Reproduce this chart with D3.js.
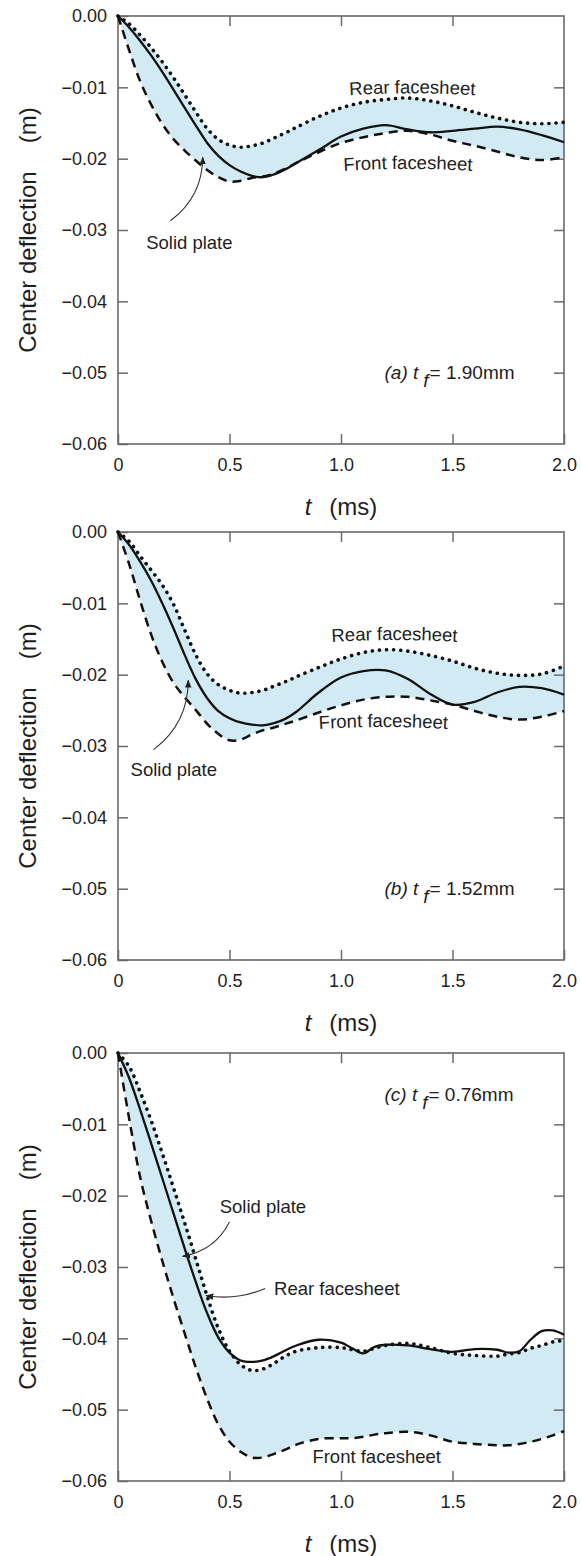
<!DOCTYPE html>
<html>
<head>
<meta charset="utf-8">
<script src="https://cdn.jsdelivr.net/npm/d3@7"></script>
<style>
  html, body { margin: 0; padding: 0; background: #fff; }
  svg { display: block; font-family: "Liberation Sans", Arial, Helvetica, sans-serif; }
</style>
</head>
<body>
<svg id="chart" width="581" height="1556"></svg>
<script>
// ---------- DATA ----------
const tAB = [0,0.05,0.1,0.15,0.2,0.25,0.3,0.35,0.4,0.45,0.5,0.55,0.6,0.65,0.7,0.75,0.8,0.9,1.0,1.1,1.2,1.3,1.4,1.5,1.6,1.7,1.8,1.9,2.0];

const rearA  = [0,-0.0011,-0.0027,-0.0045,-0.0065,-0.0087,-0.0111,-0.0135,-0.0158,-0.0173,-0.0181,-0.0184,-0.0182,-0.0178,-0.0171,-0.0164,-0.0156,-0.0141,-0.0129,-0.0121,-0.0117,-0.0115,-0.0119,-0.0126,-0.0135,-0.0143,-0.0149,-0.0151,-0.0149];
const solidA = [0,-0.0016,-0.0035,-0.0056,-0.0079,-0.0104,-0.0129,-0.0154,-0.0178,-0.0196,-0.0209,-0.0218,-0.0224,-0.0226,-0.0222,-0.0215,-0.0206,-0.0188,-0.0169,-0.0158,-0.0153,-0.0159,-0.0163,-0.0161,-0.0158,-0.0155,-0.0159,-0.0167,-0.0177];
const frontA = [0,-0.0048,-0.0092,-0.0125,-0.0152,-0.0173,-0.0189,-0.0203,-0.0216,-0.0226,-0.0232,-0.0231,-0.0227,-0.0225,-0.0221,-0.0214,-0.0206,-0.0191,-0.0178,-0.0170,-0.0164,-0.0161,-0.0166,-0.0175,-0.0182,-0.0190,-0.0198,-0.0202,-0.0198];

const rearB  = [0,-0.0013,-0.0034,-0.0054,-0.0075,-0.0102,-0.0138,-0.0173,-0.0199,-0.0214,-0.0222,-0.0226,-0.0225,-0.0222,-0.0216,-0.0210,-0.0203,-0.0190,-0.0178,-0.0169,-0.0165,-0.0167,-0.0173,-0.0181,-0.0191,-0.0198,-0.0201,-0.0199,-0.0188];
const solidB = [0,-0.0018,-0.0042,-0.0069,-0.0101,-0.0136,-0.0173,-0.0207,-0.0233,-0.0251,-0.0261,-0.0267,-0.0270,-0.0271,-0.0268,-0.0262,-0.0252,-0.0225,-0.0204,-0.0195,-0.0194,-0.0206,-0.0227,-0.0242,-0.0238,-0.0225,-0.0217,-0.0219,-0.0228];
const frontB = [0,-0.0045,-0.0097,-0.0145,-0.0183,-0.0212,-0.0232,-0.0250,-0.0269,-0.0283,-0.0292,-0.0291,-0.0284,-0.0278,-0.0274,-0.0269,-0.0264,-0.0253,-0.0243,-0.0235,-0.0231,-0.0231,-0.0236,-0.0242,-0.0251,-0.0259,-0.0263,-0.0259,-0.0251];

const tC = [0,0.05,0.1,0.15,0.2,0.25,0.3,0.35,0.4,0.45,0.5,0.55,0.6,0.65,0.7,0.75,0.8,0.9,1.0,1.05,1.1,1.15,1.2,1.3,1.4,1.5,1.6,1.7,1.75,1.8,1.85,1.9,1.95,2.0];
const rearC  = [0,-0.0019,-0.0055,-0.0096,-0.0142,-0.0190,-0.0239,-0.0290,-0.0341,-0.0386,-0.0418,-0.0437,-0.0445,-0.0443,-0.0435,-0.0425,-0.0418,-0.0413,-0.0413,-0.0416,-0.0418,-0.0414,-0.0410,-0.0407,-0.0413,-0.0421,-0.0424,-0.0425,-0.0422,-0.0420,-0.0414,-0.0410,-0.0405,-0.0403];
const solidC = [0,-0.0035,-0.0080,-0.0128,-0.0177,-0.0226,-0.0275,-0.0322,-0.0365,-0.0399,-0.0420,-0.0431,-0.0433,-0.0431,-0.0425,-0.0417,-0.0410,-0.0402,-0.0406,-0.0414,-0.0421,-0.0412,-0.0409,-0.0410,-0.0415,-0.0419,-0.0415,-0.0416,-0.0420,-0.0418,-0.0402,-0.0390,-0.0389,-0.0395];
const frontC = [0,-0.0092,-0.0175,-0.0237,-0.0293,-0.0345,-0.0394,-0.0442,-0.0485,-0.0521,-0.0545,-0.0559,-0.0567,-0.0567,-0.0562,-0.0556,-0.0549,-0.0541,-0.0540,-0.0540,-0.0538,-0.0535,-0.0533,-0.0531,-0.0536,-0.0545,-0.0548,-0.0550,-0.0550,-0.0548,-0.0545,-0.0541,-0.0536,-0.0530];

const xTicks = [0, 0.5, 1.0, 1.5, 2.0];
const xTickLabels = ["0", "0.5", "1.0", "1.5", "2.0"];
const yTicks = [0, -0.01, -0.02, -0.03, -0.04, -0.05, -0.06];
const yTickLabels = ["0.00", "\u22120.01", "\u22120.02", "\u22120.03", "\u22120.04", "\u22120.05", "\u22120.06"];

const panelLetters = ["(a)", "(b)", "(c)"];
const panelThickness = ["= 1.90mm", "= 1.52mm", "= 0.76mm"];
const yTitle = "Center deflection";
const yUnit = "(m)";
const xTitle = "t";
const xUnit = "(ms)";
const labelRear = "Rear facesheet";
const labelFront = "Front facesheet";
const labelSolid = "Solid plate";

// ---------- LAYOUT ----------
const svg = d3.select("#chart");
const X0 = 118, X1 = 564, PH = 428;
const tops = [16, 532, 1053];
const FILL = "#d2eaf3";
const FRAME = "#6a6a6a";
const INK = "#1e1e1e";

const defs = svg.append("defs");
defs.append("marker").attr("id", "arr").attr("viewBox", "0 0 10 10")
  .attr("refX", 9).attr("refY", 5).attr("markerWidth", 8).attr("markerHeight", 8)
  .attr("markerUnits", "userSpaceOnUse").attr("orient", "auto")
  .append("path").attr("d", "M0,1 L10,5 L0,9 Z").attr("fill", "#222");

const panels = [
  { t: tAB, rear: rearA, solid: solidA, front: frontA,
    annY: -0.05,
    rearLbl: {t: 1.32, v: -0.0100, arc: 4}, frontLbl: {t: 1.30, v: -0.0206, arc: 4},
    solidLbl: {t: 0.32, v: -0.0318}, solidArrow: {from: [0.235, -0.0287], to: [0.38, -0.0198], bend: 0.25} },
  { t: tAB, rear: rearB, solid: solidB, front: frontB,
    annY: -0.05,
    rearLbl: {t: 1.24, v: -0.0143, arc: 4}, frontLbl: {t: 1.19, v: -0.0265, arc: 4},
    solidLbl: {t: 0.25, v: -0.0333}, solidArrow: {from: [0.16, -0.0305], to: [0.315, -0.0208], bend: 0.25} },
  { t: tC, rear: rearC, solid: solidC, front: frontC,
    annY: -0.0058,
    rearLbl: null, frontLbl: {t: 1.16, v: -0.0566, arc: 0},
    solidLbl: {t: 0.65, v: -0.0215}, solidArrow: {from: [0.50, -0.0237], to: [0.29, -0.0285], bend: -0.25},
    rearArrow: {from: [0.66, -0.0330], to: [0.395, -0.0340], bend: -0.15},
    rearText: {t: 0.70, v: -0.0330} }
];

panels.forEach((p, i) => {
  const top = tops[i];
  const x = d3.scaleLinear().domain([0, 2]).range([X0, X1]);
  const y = d3.scaleLinear().domain([0, -0.06]).range([top, top + PH]);
  const g = svg.append("g");
  const curve = d3.curveCatmullRom.alpha(0.5);

  const pts = p.t.map((t, k) => ({t, rear: p.rear[k], solid: p.solid[k], front: p.front[k]}));

  // fill between front and rear
  g.append("path").datum(pts)
    .attr("d", d3.area().curve(curve).x(d => x(d.t)).y0(d => y(d.front)).y1(d => y(d.rear)))
    .attr("fill", FILL);

  // frame
  g.append("rect").attr("x", X0).attr("y", top).attr("width", X1 - X0).attr("height", PH)
    .attr("fill", "none").attr("stroke", FRAME).attr("stroke-width", 1.6);

  // axes (inward ticks)
  const axStyle = sel => {
    sel.select(".domain").remove();
    sel.selectAll(".tick line").attr("stroke", FRAME).attr("stroke-width", 1.5);
    sel.selectAll(".tick text").attr("fill", INK).style("font-size", "18px")
      .style("font-family", '"Liberation Sans", Arial, sans-serif');
  };
  g.append("g").attr("transform", `translate(0,${top + PH})`)
    .call(d3.axisBottom(x).tickValues(xTicks).tickSizeInner(-10).tickSizeOuter(0).tickPadding(14)
      .tickFormat((d, k) => xTickLabels[k]))
    .call(axStyle);
  g.append("g").attr("transform", `translate(0,${top})`)
    .call(d3.axisTop(x).tickValues(xTicks.slice(1, -1)).tickSizeInner(-10).tickSizeOuter(0).tickFormat(""))
    .call(axStyle);
  g.append("g").attr("transform", `translate(${X0},0)`)
    .call(d3.axisLeft(y).tickValues(yTicks).tickSizeInner(-10).tickSizeOuter(0).tickPadding(11)
      .tickFormat((d, k) => yTickLabels[k]))
    .call(axStyle);
  g.append("g").attr("transform", `translate(${X1},0)`)
    .call(d3.axisRight(y).tickValues(yTicks.slice(1, -1)).tickSizeInner(-10).tickSizeOuter(0).tickFormat(""))
    .call(axStyle);

  // lines
  const line = key => d3.line().curve(curve).x(d => x(d.t)).y(d => y(d[key]));
  g.append("path").datum(pts).attr("d", line("front")).attr("fill", "none")
    .attr("stroke", "#111").attr("stroke-width", 2.5).attr("stroke-dasharray", "9,6");
  g.append("path").datum(pts).attr("d", line("rear")).attr("fill", "none")
    .attr("stroke", "#111").attr("stroke-width", 3.6).attr("stroke-linecap", "round")
    .attr("stroke-dasharray", "0.1,7");
  g.append("path").datum(pts).attr("d", line("solid")).attr("fill", "none")
    .attr("stroke", "#111").attr("stroke-width", 2.3);

  const lblFont = "18.5px";
  const txt = (t, v, s, anchor) => g.append("text")
      .attr("x", x(t)).attr("y", y(v)).attr("text-anchor", anchor || "middle").attr("dy", "0.35em")
      .style("font-size", lblFont).attr("fill", INK).text(s);
  const arcTxt = (lbl, s, id) => {
    if (lbl.arc === 0) { txt(lbl.t, lbl.v, s); return; }
    const cx = x(lbl.t), cy = y(lbl.v) + 6, hw = 90;
    defs.append("path").attr("id", id)
      .attr("d", `M${cx - hw},${cy + lbl.arc} Q${cx},${cy - lbl.arc} ${cx + hw},${cy + lbl.arc}`);
    g.append("text").style("font-size", lblFont).attr("fill", INK)
      .append("textPath").attr("href", "#" + id).attr("startOffset", "50%")
      .attr("text-anchor", "middle").text(s);
  };
  if (p.rearLbl) arcTxt(p.rearLbl, labelRear, "rearArc" + i);
  if (p.frontLbl) arcTxt(p.frontLbl, labelFront, "frontArc" + i);
  txt(p.solidLbl.t, p.solidLbl.v, labelSolid);
  if (p.rearText) txt(p.rearText.t, p.rearText.v, labelRear, "start");

  const arrow = a => {
    const [x1, y1] = [x(a.from[0]), y(a.from[1])];
    const [x2, y2] = [x(a.to[0]), y(a.to[1])];
    const mx = (x1 + x2) / 2, my = (y1 + y2) / 2;
    const dx = x2 - x1, dy = y2 - y1;
    const cx = mx - dy * a.bend, cy = my + dx * a.bend;
    g.append("path").attr("d", `M${x1},${y1} Q${cx},${cy} ${x2},${y2}`)
      .attr("fill", "none").attr("stroke", "#333").attr("stroke-width", 1.1)
      .attr("marker-end", "url(#arr)");
  };
  arrow(p.solidArrow);
  if (p.rearArrow) arrow(p.rearArrow);

  // panel annotation
  const ann = g.append("text").attr("x", x(1.195)).attr("y", y(p.annY)).attr("dy", "0.35em")
    .style("font-size", "19px").attr("fill", INK);
  ann.append("tspan").style("font-style", "italic").text(panelLetters[i] + " t");
  ann.append("tspan").style("font-style", "italic").attr("dx", 5).attr("dy", 8).text("f");
  ann.append("tspan").attr("dx", 1).attr("dy", -8).text(panelThickness[i]);

  // axis titles
  const yt = g.append("text").attr("transform", `translate(36,${top + PH / 2}) rotate(-90)`)
    .attr("text-anchor", "middle").style("font-size", "24px").attr("fill", INK);
  yt.append("tspan").text(yTitle);
  yt.append("tspan").attr("dx", 28).text(yUnit);

  const xt = g.append("text").attr("x", (X0 + X1) / 2).attr("y", top + PH + 71)
    .attr("text-anchor", "middle").style("font-size", "24px").attr("fill", INK);
  xt.append("tspan").style("font-style", "italic").text(xTitle);
  xt.append("tspan").attr("dx", 18).text(xUnit);
});
</script>
</body>
</html>
